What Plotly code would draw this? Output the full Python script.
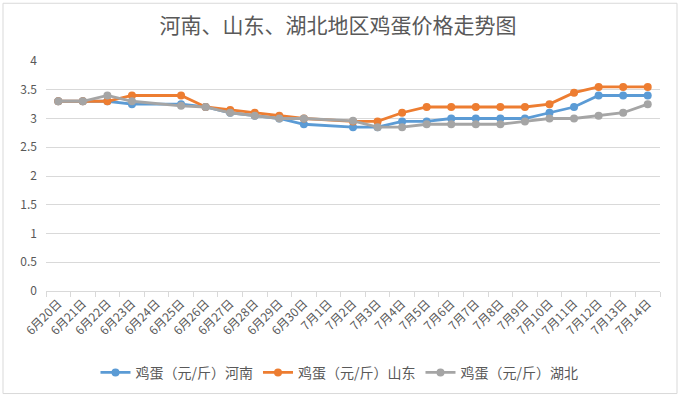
import plotly.graph_objects as go

dates = ["6月20日", "6月21日", "6月22日", "6月23日", "6月24日", "6月25日", "6月26日",
         "6月27日", "6月28日", "6月29日", "6月30日", "7月1日", "7月2日", "7月3日",
         "7月4日", "7月5日", "7月6日", "7月7日", "7月8日", "7月9日", "7月10日",
         "7月11日", "7月12日", "7月13日", "7月14日"]

henan = [3.3, 3.3, 3.3, 3.25, None, 3.25, 3.2, 3.1, 3.05, 3.0, 2.9, None, 2.85, 2.85,
         2.95, 2.95, 3.0, 3.0, 3.0, 3.0, 3.1, 3.2, 3.4, 3.4, 3.4]
shandong = [3.3, 3.3, 3.3, 3.4, None, 3.4, 3.2, 3.15, 3.1, 3.05, 3.0, None, 2.95, 2.95,
            3.1, 3.2, 3.2, 3.2, 3.2, 3.2, 3.25, 3.45, 3.55, 3.55, 3.55]
hubei = [3.3, 3.3, 3.4, 3.3, None, 3.22, 3.2, 3.1, 3.05, 3.0, 3.0, None, 2.96, 2.85,
         2.85, 2.9, 2.9, 2.9, 2.9, 2.95, 3.0, 3.0, 3.05, 3.1, 3.25]

series_names = ["鸡蛋（元/斤）河南", "鸡蛋（元/斤）山东", "鸡蛋（元/斤）湖北"]
colors = ["#5B9BD5", "#ED7D31", "#A5A5A5"]
title_text = "河南、山东、湖北地区鸡蛋价格走势图"

font_family = "Noto Sans CJK SC, Noto Sans, sans-serif"

fig = go.Figure()
for name, vals, col in zip(series_names, [henan, shandong, hubei], colors):
    fig.add_trace(go.Scatter(
        x=dates, y=vals, name=name, mode="lines+markers",
        connectgaps=True,
        line=dict(color=col, width=2.8),
        marker=dict(color=col, size=8, symbol="circle"),
    ))

fig.update_layout(
    width=680, height=399,
    margin=dict(l=46, r=20, t=61, b=107),
    paper_bgcolor="white", plot_bgcolor="white",
    font=dict(family=font_family, color="#595959", size=12),
    title=dict(text=title_text, x=0.497, xref="container", xanchor="center",
               y=0.935, yref="container", yanchor="middle",
               font=dict(size=21, color="#595959", family=font_family)),
    showlegend=True,
    legend=dict(orientation="h", x=0.478, xanchor="center", y=-0.35, yanchor="middle",
                font=dict(size=14, color="#595959"), itemwidth=30,
                bgcolor="rgba(0,0,0,0)"),
    shapes=[dict(type="rect", xref="paper", yref="paper",
                 x0=-43/614, x1=1 + 17/614, y0=-103/231, y1=1 + 58/231,
                 line=dict(color="#D9D9D9", width=1), layer="below")],
)

fig.update_xaxes(
    type="category", range=[-0.5, 24.5],
    tickangle=-45, tickfont=dict(size=12, color="#595959"),
    showgrid=False, showline=True, linecolor="#D9D9D9", linewidth=1,
    ticks="outside", ticklen=5, tickcolor="#D9D9D9", tickson="boundaries",
    zeroline=False,
)
fig.update_yaxes(
    range=[0, 4], tickvals=[0, 0.5, 1, 1.5, 2, 2.5, 3, 3.5, 4],
    ticktext=["0", "0.5", "1", "1.5", "2", "2.5", "3", "3.5", "4"],
    showgrid=True, gridcolor="#D9D9D9", gridwidth=1,
    zeroline=False, showline=False, tickfont=dict(size=12, color="#595959"),
    ticks="", ticklabelstandoff=8,
)

fig.write_html("out.html",
               config={"displayModeBar": False},
               post_script="document.body.style.margin='0';document.body.style.overflow='hidden';")
